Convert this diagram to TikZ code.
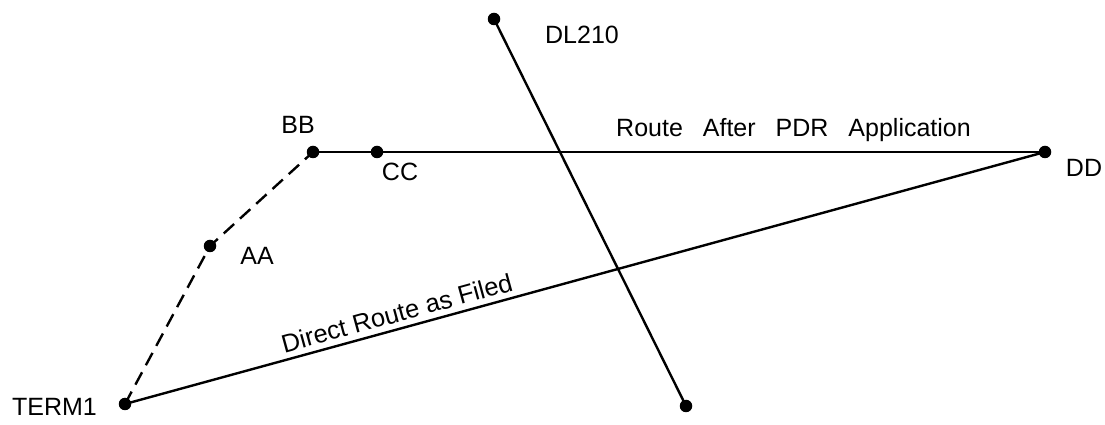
\documentclass[tikz,border=0pt]{standalone}
\usepackage{fontspec}
\setmainfont{Liberation Sans}
\begin{document}
\begin{tikzpicture}[x=1pt,y=1pt,
  pt/.style={circle,fill=black,inner sep=0pt,minimum size=12.5pt},
  route/.style={line width=2.4pt},
  lbl/.style={font=\fontsize{25}{30}\selectfont,inner sep=0pt}]
\useasboundingbox (0,0) rectangle (1105,425);
\node[pt] (T) at (125,21) {};
\node[pt] (A) at (210,179) {};
\node[pt] (B) at (313,273) {};
\node[pt] (C) at (377,273) {};
\node[pt] (D) at (1045,273) {};
\node[pt] (L1) at (494,406) {};
\node[pt] (L2) at (686,19) {};
\draw[route,dash pattern=on 14pt off 8pt] (T.center) -- (A.center) -- (B.center);
\draw[route] (B.center) -- (C.center) -- (D.center);
\draw[route] (T.center) -- node[lbl,pos=0.3,sloped,above=5.5pt,font=\fontsize{25.5}{30}\selectfont] (tF) {Direct Route as Filed} (D.center);
\draw[route] (L1.center) -- (L2.center);
\node[lbl] (tT) at (54.5,18) {TERM1};
\node[lbl] (tA) at (257,169) {AA};
\node[lbl] (tB) at (298,300) {BB};
\node[lbl] (tC) at (400,253) {CC};
\node[lbl] (tD) at (1084,257.5) {DD};
\node[lbl] (tL) at (582,390) {DL210};
\node[lbl,anchor=base west] (tR) at (616,288) {Route\hspace{20pt}After\hspace{20pt}PDR\hspace{20pt}Application};
\end{tikzpicture}
\end{document}
